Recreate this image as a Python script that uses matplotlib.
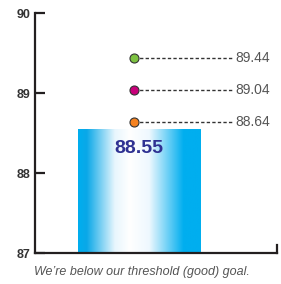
import numpy as np
import matplotlib
matplotlib.use("Agg")
import matplotlib.pyplot as plt
from matplotlib.colors import LinearSegmentedColormap

plt.rcParams['font.family'] = ['Liberation Sans', 'DejaVu Sans']

# data
actual = 88.55
goals = [89.44, 89.04, 88.64]
goal_colors = ['#7dc242', '#c8007a', '#f58220']
yticks = [87, 88, 89, 90]
caption = "We\u2019re below our threshold (good) goal."

bar_x = 0.43
bar_w = 0.505
dot_x = 0.41
line_end = 0.82

fig = plt.figure(figsize=(2.81, 2.84), dpi=100)
ax = fig.add_axes([35/281, 31/284, 242/281, 240/284])
ax.set_xlim(0, 1)
ax.set_ylim(87, 90)

# bar with horizontal gradient
bars = ax.bar([bar_x], [actual - 87], bottom=87, width=bar_w, color='none', edgecolor='none')
blue = '#00aeef'
cmap = LinearSegmentedColormap.from_list('bar', [(0, blue), (0.07, '#0aa8e8'), (0.3, '#e8f6fd'),
                                                 (0.42, 'white'), (0.58, '#eef8fe'), (0.86, blue), (1, blue)])
grad = np.linspace(0, 1, 256).reshape(1, -1)
x0 = bar_x - bar_w / 2
img = ax.imshow(grad, cmap=cmap, aspect='auto', extent=[x0, x0 + bar_w, 87, actual], zorder=1)
img.set_clip_path(bars[0])
ax.text(bar_x, actual - 0.14, f"{actual:.2f}", ha='center', va='top', fontsize=14,
        fontweight='bold', color='#2e3192', zorder=3)

# goal markers
for g, c in zip(goals, goal_colors):
    ax.plot([dot_x, line_end], [g, g], ls=(0, (2.4, 1.6)), color='#333333', lw=1.0, zorder=3)
    ax.plot(dot_x, g, 'o', ms=6.5, mfc=c, mec='#333333', mew=0.8, zorder=4)
    ax.text(line_end + 0.01, g, f"{g:.2f}", va='center', ha='left', fontsize=10, color='#555555')

# axes styling
for s in ['top', 'right']:
    ax.spines[s].set_visible(False)
for s in ['left', 'bottom']:
    ax.spines[s].set_color('#231f20')
    ax.spines[s].set_linewidth(1.6)
ax.set_yticks(yticks)
ax.set_yticklabels([str(t) for t in yticks], fontweight='bold', fontsize=9, color='#333333')
ax.tick_params(axis='y', direction='in', length=7, width=1.6, color='#231f20', pad=3)
ax.set_xticks([])
ax.plot([1, 1], [87, 87.1], color='#231f20', lw=1.6, clip_on=False)

fig.text(34/281, 1 - 272/284, caption, fontsize=9, style='italic', color='#555555', va='center')

fig.savefig('out.png', dpi=100)
